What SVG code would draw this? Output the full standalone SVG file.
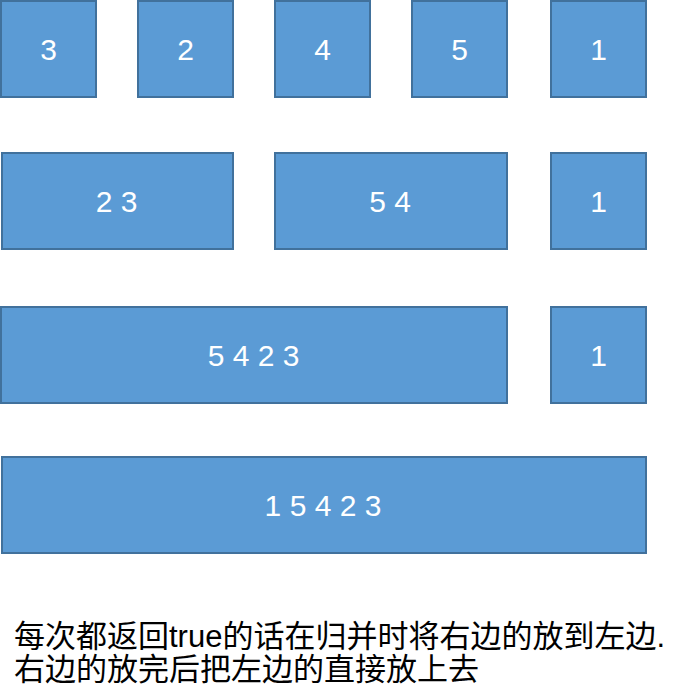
<svg xmlns="http://www.w3.org/2000/svg" width="683" height="698" viewBox="0 0 683 698">
<style>
.box{fill:#5b9bd5;stroke:#41719c;stroke-width:2}
.lbl{font-family:"Liberation Sans",Arial,sans-serif;font-size:30px;fill:#ffffff;text-anchor:middle}
.note{font-family:"Noto Sans CJK SC","Noto Sans",sans-serif;font-size:31px;fill:#000000}
.lat{font-family:"Liberation Sans",Arial,sans-serif}
</style>
<rect width="683" height="698" fill="#ffffff"/>
<g id="connectors"/>
<g id="n3"><rect class="box" x="1" y="1" width="95" height="96"/><text class="lbl" x="48.5" y="60">3</text></g>
<g id="n2"><rect class="box" x="138" y="1" width="95" height="96"/><text class="lbl" x="185.5" y="60">2</text></g>
<g id="n4"><rect class="box" x="275" y="1" width="95" height="96"/><text class="lbl" x="322.5" y="60">4</text></g>
<g id="n5"><rect class="box" x="412" y="1" width="95" height="96"/><text class="lbl" x="459.5" y="60">5</text></g>
<g id="n1a"><rect class="box" x="551" y="1" width="95" height="96"/><text class="lbl" x="598.5" y="60">1</text></g>
<g id="n23"><rect class="box" x="2" y="153" width="231" height="96"/><text class="lbl" x="116.5" y="212">2 3</text></g>
<g id="n54"><rect class="box" x="275" y="153" width="232" height="96"/><text class="lbl" x="390" y="212">5 4</text></g>
<g id="n1b"><rect class="box" x="551" y="153" width="95" height="96"/><text class="lbl" x="598.5" y="212">1</text></g>
<g id="n5423"><rect class="box" x="1" y="307" width="506" height="96"/><text class="lbl" x="253.5" y="366">5 4 2 3</text></g>
<g id="n1c"><rect class="box" x="551" y="307" width="95" height="96"/><text class="lbl" x="598.5" y="366">1</text></g>
<g id="n15423"><rect class="box" x="2" y="457" width="644" height="96"/><text class="lbl" x="323" y="516">1 5 4 2 3</text></g>
<g id="note">
<text class="note" x="14" y="647">每次都返回<tspan class="lat">true</tspan>的话在归并时将右边的放到左边<tspan class="lat">.</tspan></text>
<text class="note" x="14" y="680">右边的放完后把左边的直接放上去</text>
</g>
</svg>
